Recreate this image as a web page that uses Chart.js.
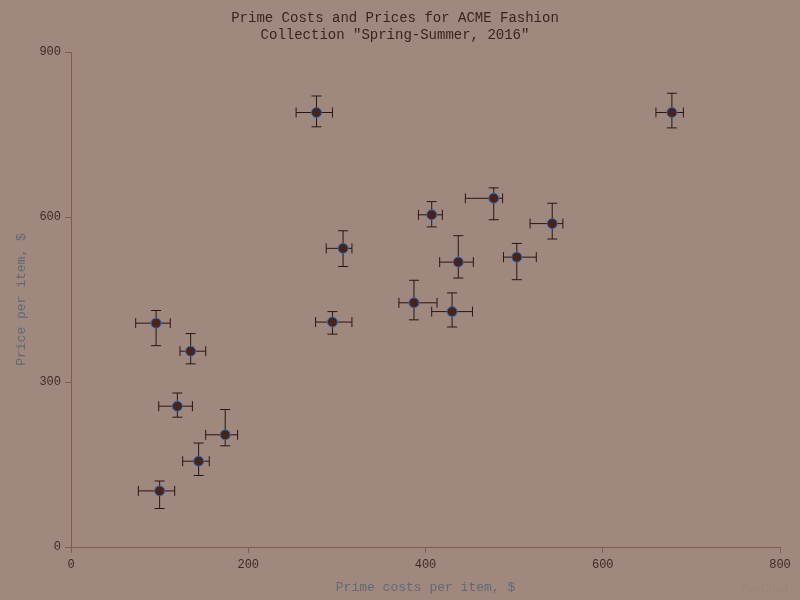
<!DOCTYPE html>
<html>
<head>
<meta charset="utf-8">
<script src="https://cdn.jsdelivr.net/npm/chart.js@4/dist/chart.umd.min.js"></script>
<style>
  html, body { margin: 0; padding: 0; background: #a1887e; }
  #wrap { position: relative; width: 800px; height: 600px; }
  #wm { position: absolute; right: 12px; bottom: 6px; font: 11px "Liberation Sans", sans-serif; color: #9a8379; }
</style>
</head>
<body>
<div id="wrap">
  <canvas id="c" width="800" height="600"></canvas>
  <div id="wm">AnyChart</div>
</div>
<script>
const titleLines = ['Prime Costs and Prices for ACME Fashion', 'Collection "Spring-Summer, 2016"'];
const xAxisTitle = 'Prime costs per item, $';
const yAxisTitle = 'Price per item, $';
const xTicks = [0, 200, 400, 600, 800];
const yTicks = [0, 300, 600, 900];

const costs     = [277, 678, 407, 477, 543, 307, 437, 503, 387, 430, 295,  96, 135, 120, 174, 144, 100];
const costLow   = [254, 660, 392, 445, 518, 288, 416, 488, 370, 407, 276,  73, 123,  99, 152, 126,  76];
const costHigh  = [295, 691, 419, 487, 555, 317, 454, 525, 413, 453, 317, 112, 152, 137, 188, 156, 117];
const prices    = [790, 790, 604, 634, 588, 543, 518, 527, 444, 428, 409, 407, 356, 256, 204, 156, 102];
const priceLow  = [764, 762, 582, 595, 560, 510, 489, 486, 413, 400, 387, 366, 333, 236, 184, 130,  70];
const priceHigh = [820, 825, 628, 653, 625, 575, 566, 552, 485, 462, 428, 430, 388, 280, 250, 189, 120];

const points = costs.map((x, i) => ({ x: x, y: prices[i] }));

const errorBars = {
  id: 'errorBars',
  beforeDatasetsDraw(chart) {
    const ctx = chart.ctx;
    const xs = chart.scales.x, ys = chart.scales.y;
    const cap = 5;
    ctx.save();
    ctx.strokeStyle = '#2b1511';
    ctx.lineWidth = 1;
    costs.forEach((c, i) => {
      const px = xs.getPixelForValue(c);
      const py = ys.getPixelForValue(prices[i]);
      const xl = xs.getPixelForValue(costLow[i]);
      const xh = xs.getPixelForValue(costHigh[i]);
      const yl = ys.getPixelForValue(priceLow[i]);
      const yh = ys.getPixelForValue(priceHigh[i]);
      ctx.beginPath();
      ctx.moveTo(xl, py); ctx.lineTo(xh, py);
      ctx.moveTo(xl, py - cap); ctx.lineTo(xl, py + cap);
      ctx.moveTo(xh, py - cap); ctx.lineTo(xh, py + cap);
      ctx.moveTo(px, yl); ctx.lineTo(px, yh);
      ctx.moveTo(px - cap, yl); ctx.lineTo(px + cap, yl);
      ctx.moveTo(px - cap, yh); ctx.lineTo(px + cap, yh);
      ctx.stroke();
    });
    ctx.restore();
  }
};

const bgPlugin = {
  id: 'bg',
  beforeDraw(chart) {
    const ctx = chart.ctx;
    ctx.save();
    ctx.fillStyle = '#a1887e';
    ctx.fillRect(0, 0, chart.width, chart.height);
    ctx.restore();
  }
};

const mono = '"Liberation Mono", "DejaVu Sans Mono", monospace';
const axisColor = '#7b5f55';

new Chart(document.getElementById('c'), {
  type: 'scatter',
  data: {
    datasets: [{
      data: points,
      pointRadius: 5,
      pointHoverRadius: 5,
      pointBackgroundColor: '#4a2217',
      pointBorderColor: '#2270cc',
      pointBorderWidth: 1
    }]
  },
  plugins: [bgPlugin, errorBars],
  options: {
    responsive: false,
    animation: false,
    events: [],
    layout: { padding: { left: 10, right: 20, top: 0, bottom: 0 } },
    plugins: {
      legend: { display: false },
      tooltip: { enabled: false },
      title: {
        display: true,
        text: titleLines,
        color: '#3a221e',
        font: { family: mono, size: 14, weight: 'normal', lineHeight: 1.2 },
        padding: { top: 10, bottom: 8.4 }
      }
    },
    scales: {
      x: {
        type: 'linear',
        min: 0, max: 800,
        afterBuildTicks(scale) { scale.ticks = xTicks.map(v => ({ value: v })); },
        afterFit(scale) { scale.height = 53; },
        border: { display: true, color: axisColor, width: 1 },
        grid: { display: true, drawOnChartArea: false, drawTicks: true, tickLength: 6, color: axisColor },
        ticks: { color: '#3f2a25', font: { family: mono, size: 12 }, padding: 5, maxRotation: 0 },
        title: { display: true, text: xAxisTitle, color: '#5f6a76', font: { family: mono, size: 13 }, padding: { top: 4, bottom: 5 } }
      },
      y: {
        type: 'linear',
        min: 0, max: 900,
        afterBuildTicks(scale) { scale.ticks = yTicks.map(v => ({ value: v })); },
        afterFit(scale) { scale.width = 61; },
        border: { display: true, color: axisColor, width: 1 },
        grid: { display: true, drawOnChartArea: false, drawTicks: true, tickLength: 6, color: axisColor },
        ticks: { color: '#3f2a25', font: { family: mono, size: 12 }, padding: 4 },
        title: { display: true, text: yAxisTitle, color: '#5f6a76', font: { family: mono, size: 13 }, padding: { top: 4, bottom: 4 } }
      }
    }
  }
});
</script>
</body>
</html>
